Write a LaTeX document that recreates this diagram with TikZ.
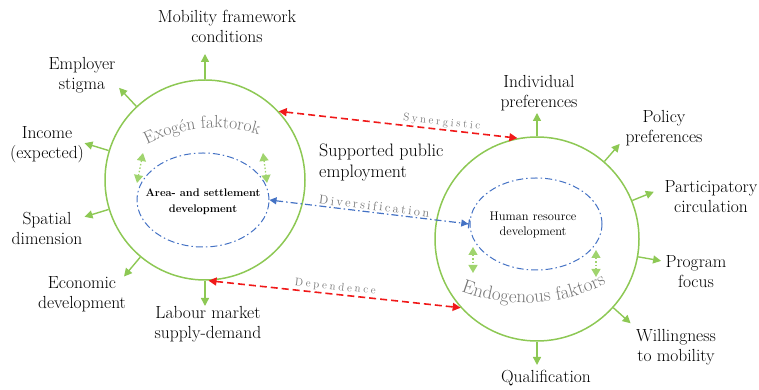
\documentclass[tikz,border=0pt]{standalone}
\usepackage{fontspec}
\usepackage{tikz}
\usetikzlibrary{arrows.meta}
\usetikzlibrary{shapes.geometric}
\usetikzlibrary{decorations.text}

\definecolor{leaf}{RGB}{141,200,84}
\definecolor{leaflight}{RGB}{160,212,110}
\definecolor{steel}{RGB}{68,114,196}
\definecolor{alarm}{RGB}{240,25,25}
\definecolor{softgray}{RGB}{118,118,118}

\makeatletter
\newcommand\spreadout[2]{\@tfor\ch:=#2\do{\ch\kern#1}\kern-#1}
\makeatother

\tikzset{
    factor/.style={font=\fontsize{17.5}{20}\selectfont, align=center, inner sep=0pt},
    ring/.style={circle, draw=leaf, line width=1.5pt, inner sep=0pt},
    core/.style={ellipse, draw=steel, line width=1pt, inner sep=0pt,
        dash pattern=on 7pt off 3pt on 1.5pt off 3pt},
    sprout/.style={draw=leaf, line width=1.4pt, -{Triangle[length=8pt,width=8pt]}},
    twoway/.style={draw=leaflight, line width=1.3pt, dash pattern=on 1.5pt off 2pt,
        {Triangle[length=8pt,width=9pt]}-{Triangle[length=8pt,width=9pt]}},
    bond/.style={draw=alarm, line width=1.6pt, dash pattern=on 7pt off 4pt,
        {Triangle[length=8pt,width=8pt]}-{Triangle[length=8pt,width=8pt]}},
    linklabel/.style={sloped, above, inner sep=1.5pt, text=softgray,
        font=\fontsize{11}{11}\selectfont}
}

\begin{document}
\begin{tikzpicture}[x=1pt,y=1pt]
    \useasboundingbox (0,0) rectangle (759,390);
    \pgfmathsetmacro{\reach}{126}
    \node [ring, minimum size=200pt] (exo) at (205,210) {};
    \node [ring, minimum size=204pt] (endo) at (537,151) {};
    \node [core, minimum width=132pt, minimum height=94pt] (arearing) at (203,190) {};
    \node [core, minimum width=132pt, minimum height=92pt] (hrring) at (536,166) {};
    \node [font=\bfseries\fontsize{11}{16}\selectfont, align=center] (area) at (203,188) {Area- and settlement\\development};
    \node [font=\fontsize{12.5}{15.5}\selectfont, align=center] (hr) at (533,165) {Human resource\\development};
    \node [factor, anchor=west, align=left, font=\fontsize{18}{21}\selectfont] (spe) at (319,227) {Supported public\\employment};

    \node [factor] (mob) at (227,364) {Mobility framework\\conditions};
    \node [factor] (emp) at (82,315) {Employer\\stigma};
    \node [factor] (inc) at (47,245) {Income\\(expected)};
    \node [factor] (spa) at (47,162) {Spatial\\dimension};
    \node [factor] (eco) at (82,96) {Economic\\development};
    \node [factor] (lab) at (208,66) {Labour market\\supply-demand};
    \node [factor] (ind) at (539,297) {Individual\\preferences};
    \node [factor] (pol) at (664,262) {Policy\\preferences};
    \node [factor] (par) at (711,193) {Participatory\\circulation};
    \node [factor] (pro) at (696,118) {Program\\focus};
    \node [factor] (wil) at (676,43) {Willingness\\to mobility};
    \node [factor] (qua) at (546,12) {Qualification};

    \foreach \a/\n in {90/mob,133/emp,163/inc,197/spa,230/eco,270/lab}{
        \path (exo.center) ++(\a:\reach) coordinate (tip-\n);
        \draw [sprout] (exo.\a) -- (tip-\n);
    }
    \foreach \a/\n in {90/ind,49/pol,22/par,-10/pro,-42/wil,270/qua}{
        \path (endo.center) ++(\a:\reach) coordinate (tip-\n);
        \draw [sprout] (endo.\a) -- (tip-\n);
    }

    \coordinate (al1) at (143,237);
    \coordinate (al2) at (137,207);
    \coordinate (ar1) at (263,237);
    \coordinate (ar2) at (267,207);
    \coordinate (hl1) at (473,143);
    \coordinate (hl2) at (473,117);
    \coordinate (hr1) at (596,140);
    \coordinate (hr2) at (596,113);
    \draw [twoway] (al1) -- (al2);
    \draw [twoway] (ar1) -- (ar2);
    \draw [twoway] (hl1) -- (hl2);
    \draw [twoway] (hr1) -- (hr2);

    \draw [bond] (exo.43) -- node [linklabel, pos=0.68] {\spreadout{2.6pt}{Synergistic}} (endo.101);
    \draw [bond] (exo.272) -- node [linklabel, pos=0.5] {\spreadout{2.8pt}{Dependence}} (endo.222);
    \draw [draw=steel, line width=1.2pt, dash pattern=on 7pt off 3pt on 1.5pt off 3pt,
        {Triangle[length=7pt,width=7pt]}-{Triangle[length=7pt,width=7pt]Bar[width=9pt,line width=1.2pt]}]
        (arearing.east) -- node [linklabel, pos=0.52, font=\fontsize{12.5}{12.5}\selectfont] {\spreadout{2.4pt}{Diversification}} (hrring.west);

    \path [decorate, decoration={text along path, text align=center,
        text={|\fontsize{17.5}{17.5}\selectfont\color{softgray}|Exogén faktorok}}]
        ([shift={(124:150)}]215,112) arc [start angle=124, end angle=66, radius=150];
    \path [decorate, decoration={text along path, text align=center,
        text={|\fontsize{19}{19}\selectfont\color{softgray}|Endogenous faktors}}]
        ([shift={(243:180)}]525,267) arc [start angle=243, end angle=303, radius=180];
\end{tikzpicture}
\end{document}
